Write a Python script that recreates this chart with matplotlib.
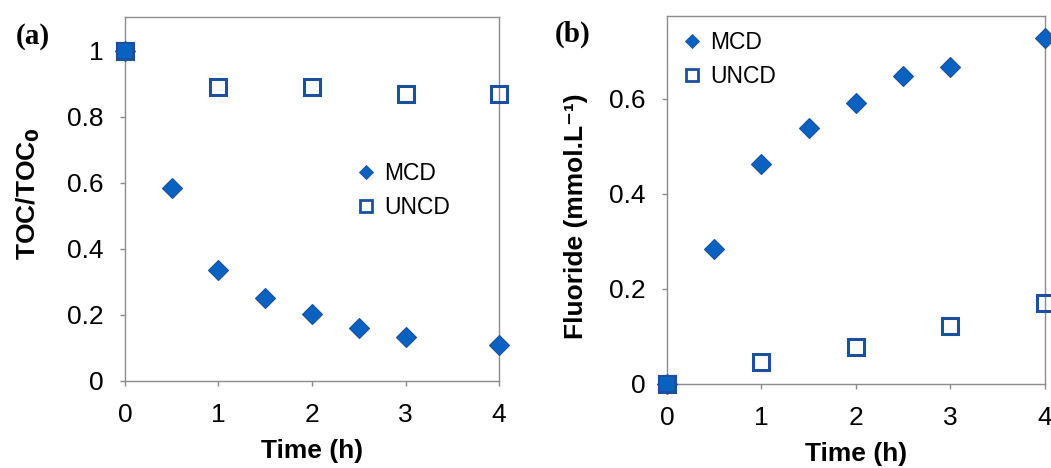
import matplotlib
matplotlib.use("Agg")
import matplotlib.pyplot as plt
from matplotlib.lines import Line2D

# Data
time_mcd = [0, 0.5, 1, 1.5, 2, 2.5, 3, 4]
time_uncd = [0, 1, 2, 3, 4]
toc_mcd = [1.0, 0.586, 0.337, 0.252, 0.204, 0.162, 0.134, 0.109]
toc_uncd = [1.0, 0.891, 0.891, 0.870, 0.870]
fl_mcd = [0.0, 0.285, 0.463, 0.539, 0.592, 0.649, 0.668, 0.728]
fl_uncd = [0.0, 0.046, 0.077, 0.123, 0.170]
xticks = [0, 1, 2, 3, 4]
yticks_a = [0, 0.2, 0.4, 0.6, 0.8, 1]
yticks_b = [0, 0.2, 0.4, 0.6]
series_names = ['MCD', 'UNCD']

plt.rcParams['font.family'] = ['Liberation Sans', 'DejaVu Sans']

FILL = '#0A62C0'
EDGE = '#1D4F9F'
SPINE = '#8c8c8c'

fig = plt.figure(figsize=(10.51, 4.68), dpi=100)
ax1 = fig.add_axes([0.1189, 0.1859, 0.3559, 0.7778])
ax2 = fig.add_axes([0.6346, 0.1795, 0.3597, 0.7870])

def fmt(v):
    return '0' if v == 0 else ('1' if v == 1 else f'{v:.1f}')

def style(ax, yticks, ylim, ylabel, label_xy):
    ax.set_xlim(0, 4)
    ax.set_ylim(*ylim)
    ax.set_xticks(xticks)
    ax.set_xticklabels([str(t) for t in xticks])
    ax.set_yticks(yticks)
    ax.set_yticklabels([fmt(v) for v in yticks])
    for s in ax.spines.values():
        s.set_color(SPINE)
        s.set_linewidth(1.0)
    ax.tick_params(axis='both', direction='out', length=3.6, width=1, color=SPINE,
                   labelsize=19)
    ax.tick_params(axis='y', pad=12)
    ax.tick_params(axis='x', pad=12)
    ax.set_xlabel('Time (h)', fontsize=19, fontweight='bold', labelpad=9)
    ax.set_ylabel(ylabel, fontsize=19, fontweight='bold')
    ax.yaxis.set_label_coords(*label_xy)

style(ax1, yticks_a, (0, 1.103), 'TOC/TOC$_\\mathbf{0}$', (-0.221, 0.514))
style(ax2, yticks_b, (0, 0.775), 'Fluoride (mmol.L\u207b\u00b9)', (-0.208, 0.456))

for ax, ym, yu in [(ax1, toc_mcd, toc_uncd), (ax2, fl_mcd, fl_uncd)]:
    ax.plot(time_uncd, yu, linestyle='none', marker='s', markersize=12,
            markerfacecolor='none', markeredgecolor=EDGE, markeredgewidth=2.2,
            clip_on=False, zorder=3)
    ax.plot(time_mcd, ym, linestyle='none', marker='D', markersize=10.5,
            markerfacecolor=FILL, markeredgecolor=EDGE, markeredgewidth=0.8,
            clip_on=False, zorder=4)
    # UNCD point at t=0 overlaps the MCD point (shown filled)
    ax.plot([time_uncd[0]], [yu[0]], linestyle='none', marker='s', markersize=12,
            markerfacecolor=FILL, markeredgecolor=EDGE, markeredgewidth=1.5,
            clip_on=False, zorder=5)

def add_legend(ax, anchor, spacing):
    handles = [
        Line2D([], [], linestyle='none', marker='D', markersize=7,
               markerfacecolor=FILL, markeredgecolor=EDGE, markeredgewidth=0.6),
        Line2D([], [], linestyle='none', marker='s', markersize=8.5,
               markerfacecolor='none', markeredgecolor=EDGE, markeredgewidth=2.0),
    ]
    ax.legend(handles, series_names, loc='center left', bbox_to_anchor=anchor,
              frameon=False, fontsize=16.5, handlelength=1.0, handletextpad=0.28,
              labelspacing=spacing, borderaxespad=0, borderpad=0)

add_legend(ax1, (0.6136, 0.523), 0.5)
add_legend(ax2, (0.0357, 0.881), 0.47)

fig.text(16/1051, 1 - 36/468, '(a)', family=['Liberation Serif', 'DejaVu Serif'],
         fontweight='bold', fontsize=21, va='center', ha='left')
fig.text(555/1051, 1 - 34/468, '(b)', family=['Liberation Serif', 'DejaVu Serif'],
         fontweight='bold', fontsize=21, va='center', ha='left')

fig.savefig('out.png', dpi=100)
